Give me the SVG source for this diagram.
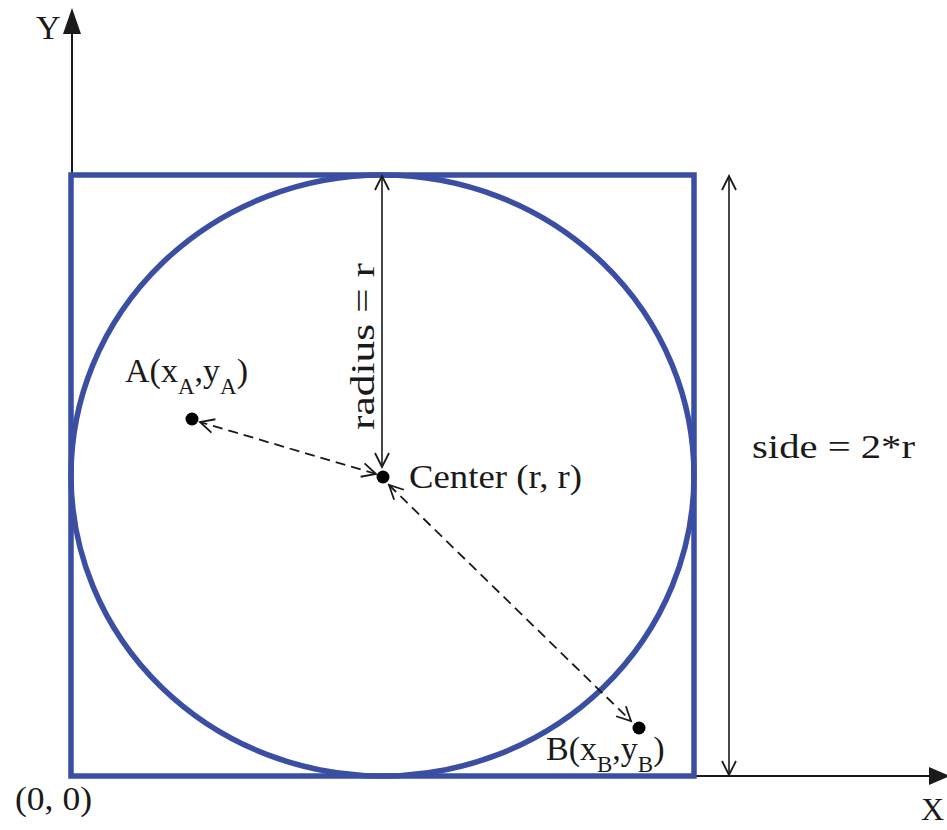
<svg xmlns="http://www.w3.org/2000/svg" width="947" height="830" viewBox="0 0 947 830">
<style>
.lbl{font-family:"Liberation Serif","Times New Roman",serif;fill:#1a1a1a;}
.blue{fill:none;stroke:#3a4ea3;stroke-width:5.5;}
.axis{stroke:#1a1a1a;stroke-width:2;fill:none;}
.dim{stroke:#1a1a1a;stroke-width:1.6;fill:none;}
.dash{stroke:#1a1a1a;stroke-width:1.8;fill:none;stroke-dasharray:10 6;}
.dot{fill:#000;}
</style>
<defs>
<marker id="v" viewBox="-16 -9 18 18" markerWidth="18" markerHeight="18" refX="0" refY="0" markerUnits="userSpaceOnUse" orient="auto-start-reverse" overflow="visible">
<path d="M -14 -7 L 0 0 L -14 7" fill="none" stroke="#1a1a1a" stroke-width="1.8"/>
</marker>
</defs>
<rect width="947" height="830" fill="#fff"/>
<g id="axes">
<line class="axis" x1="72" y1="776" x2="72" y2="30"/>
<polygon points="72,8 63,34 81,34" fill="#1a1a1a"/>
<line class="axis" x1="72" y1="776" x2="932" y2="776"/>
<polygon points="950,776 929,767 929,785" fill="#1a1a1a"/>
<text class="lbl" x="36" y="39" font-size="34">Y</text>
<text class="lbl" x="921" y="820" font-size="32">X</text>
<text class="lbl" x="15" y="810" font-size="33" textLength="77" lengthAdjust="spacingAndGlyphs">(0, 0)</text>
</g>
<g id="square">
<rect class="blue" x="71" y="175" width="623" height="601"/>
</g>
<g id="circle">
<ellipse class="blue" cx="382.5" cy="475.5" rx="311.5" ry="300.5"/>
</g>
<g id="connectors">
<line class="dim" x1="382" y1="176" x2="382" y2="467" marker-start="url(#v)" marker-end="url(#v)"/>
<line class="dim" x1="729" y1="176" x2="729" y2="775" marker-start="url(#v)" marker-end="url(#v)"/>
<line class="dash" x1="376" y1="474" x2="200" y2="422" marker-start="url(#v)" marker-end="url(#v)"/>
<line class="dash" x1="389" y1="485" x2="631" y2="721" marker-start="url(#v)" marker-end="url(#v)"/>
</g>
<g id="center">
<circle class="dot" cx="383" cy="477" r="6.5"/>
<text class="lbl" x="409" y="488" font-size="34" textLength="173" lengthAdjust="spacingAndGlyphs">Center (r, r)</text>
</g>
<g id="pointA">
<circle class="dot" cx="192" cy="419" r="6.5"/>
<text class="lbl" x="125" y="382" font-size="34">A(x<tspan font-size="23" dy="12">A</tspan><tspan dy="-12">,y</tspan><tspan font-size="23" dy="12">A</tspan><tspan dy="-12">)</tspan></text>
</g>
<g id="pointB">
<circle class="dot" cx="639" cy="728" r="6.5"/>
<text class="lbl" x="546" y="760" font-size="34">B(x<tspan font-size="23" dy="12">B</tspan><tspan dy="-12">,y</tspan><tspan font-size="23" dy="12">B</tspan><tspan dy="-12">)</tspan></text>
</g>
<g id="radius-label">
<text class="lbl" transform="translate(374,346.5) rotate(-90)" x="0" y="0" text-anchor="middle" font-size="34" textLength="167" lengthAdjust="spacingAndGlyphs">radius = r</text>
</g>
<g id="side-label">
<text class="lbl" x="752" y="458" font-size="34" textLength="163" lengthAdjust="spacingAndGlyphs">side = 2*r</text>
</g>
</svg>
